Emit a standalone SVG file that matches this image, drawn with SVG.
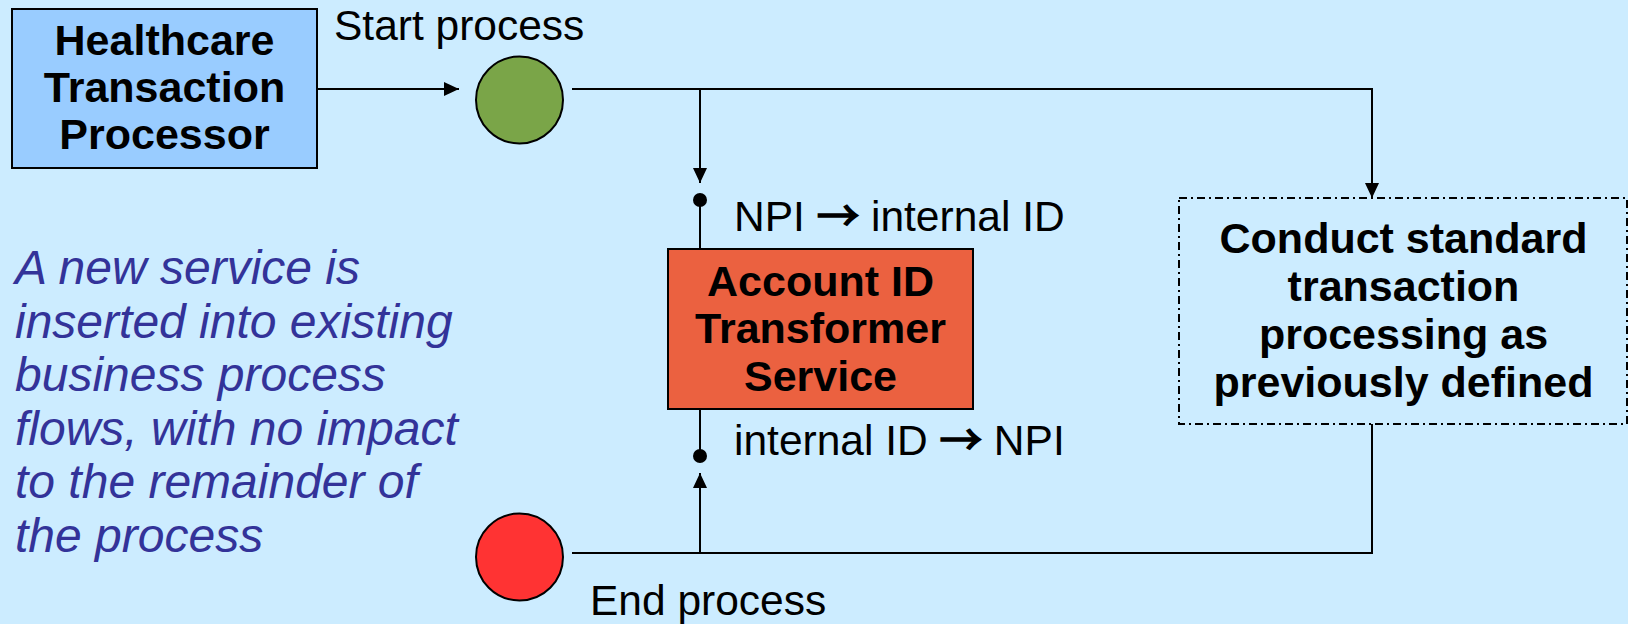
<svg xmlns="http://www.w3.org/2000/svg" width="1628" height="624" viewBox="0 0 1628 624">
<defs>
<marker id="arr" markerUnits="userSpaceOnUse" markerWidth="16" markerHeight="16" viewBox="0 0 16 16" refX="15" refY="8" orient="auto">
<path d="M0,1 L15,8 L0,15 Z" fill="#000"/>
</marker>
<style>
.ln{fill:none;stroke:#000;stroke-width:2}
.bt{font-family:"Liberation Sans",Arial,sans-serif;font-weight:bold;font-size:43px;fill:#000;text-anchor:middle}
.rt{font-family:"Liberation Sans",Arial,sans-serif;font-size:42.5px;fill:#000}
.ar{font-family:"Noto Sans CJK SC","Liberation Sans",sans-serif;stroke:#000;stroke-width:1.6}
.it{font-family:"Liberation Sans",Arial,sans-serif;font-style:italic;font-size:48px;fill:#333399}
</style>
</defs>
<rect width="1628" height="624" fill="#CCECFF"/>
<g id="connectors">
<path class="ln" d="M317,89 H459" marker-end="url(#arr)"/>
<path class="ln" d="M572,89 H1372 V198" marker-end="url(#arr)"/>
<path class="ln" d="M700,89 V183" marker-end="url(#arr)"/>
<path class="ln" d="M700,200 V249"/>
<circle cx="700" cy="200" r="7" fill="#000"/>
<path class="ln" d="M700,409 V456"/>
<circle cx="700" cy="456" r="7" fill="#000"/>
<path class="ln" d="M1372,424 V553 H572"/>
<path class="ln" d="M700,553 V473" marker-end="url(#arr)"/>
</g>
<g id="htp">
<rect x="12" y="9" width="305" height="159" fill="#99CCFF" stroke="#000" stroke-width="2"/>
<text class="bt" x="164.5" y="55">Healthcare</text>
<text class="bt" x="164.5" y="102">Transaction</text>
<text class="bt" x="164.5" y="149">Processor</text>
</g>
<g id="start">
<circle cx="519.5" cy="100" r="43.5" fill="#7AA548" stroke="#000" stroke-width="2"/>
<text class="rt" x="334" y="40">Start process</text>
</g>
<g id="transformer">
<rect x="668" y="249" width="305" height="160" fill="#EB6140" stroke="#000" stroke-width="2"/>
<text class="bt" x="820.5" y="296">Account ID</text>
<text class="bt" x="820.5" y="343">Transformer</text>
<text class="bt" x="820.5" y="391">Service</text>
<text class="rt" x="734" y="231">NPI <tspan class="ar">→</tspan> internal ID</text>
<text class="rt" x="734" y="455">internal ID <tspan class="ar">→</tspan> NPI</text>
</g>
<g id="standard">
<rect x="1179" y="198" width="448" height="226" fill="none" stroke="#000" stroke-width="2" stroke-dasharray="8 4 2 4"/>
<text class="bt" x="1403.5" y="253">Conduct standard</text>
<text class="bt" x="1403.5" y="301">transaction</text>
<text class="bt" x="1403.5" y="349">processing as</text>
<text class="bt" x="1403.5" y="397">previously defined</text>
</g>
<g id="end">
<circle cx="519.5" cy="557" r="43.5" fill="#FF3333" stroke="#000" stroke-width="2"/>
<text class="rt" x="590" y="615">End process</text>
</g>
<g id="note">
<text class="it" x="15" y="284">A new service is</text>
<text class="it" x="15" y="338">inserted into existing</text>
<text class="it" x="15" y="391">business process</text>
<text class="it" x="15" y="445">flows, with no impact</text>
<text class="it" x="15" y="498">to the remainder of</text>
<text class="it" x="15" y="552">the process</text>
</g>
</svg>
